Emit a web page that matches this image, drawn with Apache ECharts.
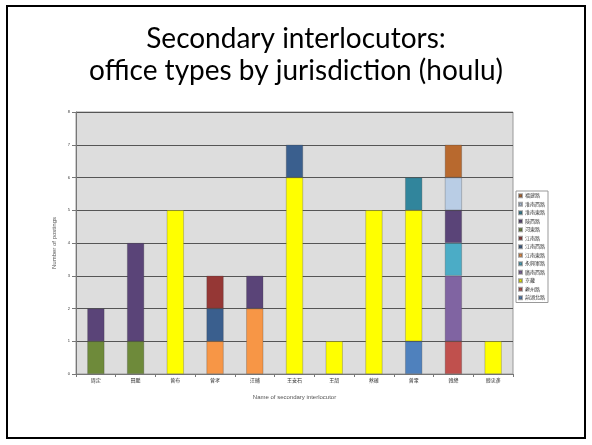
<!DOCTYPE html>
<html>
<head>
<meta charset="utf-8">
<script src="https://cdn.jsdelivr.net/npm/echarts@6/dist/echarts.min.js"></script>
<style>
  html, body { margin: 0; padding: 0; background: #fff; }
  #chart { width: 592px; height: 445px; }
</style>
</head>
<body>
<div id="chart"></div>
<script>
// interlocutors along the x axis
const categories = ['周定', '田鵬', '曾布', '曾孝', '汪輔', '王安石', '王韶', '蔡確', '曾鞏', '韓絳', '韓忠彥'];

// one array per jurisdiction (stacked bottom-up in this order)
const jingHuBei   = [0, 0, 0, 0, 0, 0, 0, 0, 1, 0, 0];
const kuiZhou     = [0, 0, 0, 0, 0, 0, 0, 0, 0, 1, 0];
const jingJi      = [0, 0, 5, 0, 0, 6, 1, 5, 4, 0, 1];
const guangNanXi  = [0, 0, 0, 0, 0, 0, 0, 0, 0, 2, 0];
const yongXingJun = [0, 0, 0, 0, 0, 0, 0, 0, 0, 1, 0];
const jiangNanDong = [0, 0, 0, 1, 2, 0, 0, 0, 0, 0, 0];
const jiangNanXi  = [0, 0, 0, 1, 0, 1, 0, 0, 0, 0, 0];
const jiangNan    = [0, 0, 0, 1, 0, 0, 0, 0, 0, 0, 0];
const heDong      = [1, 1, 0, 0, 0, 0, 0, 0, 0, 0, 0];
const shanXi      = [1, 3, 0, 0, 1, 0, 0, 0, 0, 1, 0];
const huaiNanDong = [0, 0, 0, 0, 0, 0, 0, 0, 1, 0, 0];
const huaiNanXi   = [0, 0, 0, 0, 0, 0, 0, 0, 0, 1, 0];
const fuJian      = [0, 0, 0, 0, 0, 0, 0, 0, 0, 1, 0];

const seriesNames = ['荊湖北路', '夔州路', '京畿', '廣南西路', '永興軍路', '江南東路',
  '江南西路', '江南路', '河東路', '陝西路', '淮南東路', '淮南西路', '福建路'];
const seriesData = [jingHuBei, kuiZhou, jingJi, guangNanXi, yongXingJun, jiangNanDong,
  jiangNanXi, jiangNan, heDong, shanXi, huaiNanDong, huaiNanXi, fuJian];
const colors = ['#4F81BD', '#C0504D', '#FFFF00', '#8064A2', '#4BACC6', '#F79646',
  '#3A5F8E', '#953735', '#6E8A3A', '#5A4478', '#31859C', '#B9CDE5', '#B8692E'];

const yTicks = [0, 1, 2, 3, 4, 5, 6, 7, 8];

const myChart = echarts.init(document.getElementById('chart'));

const titleFont = '28px Lato, "Open Sans", sans-serif';

const option = {
    animation: false,
    textStyle: { fontFamily: 'Liberation Sans, "Noto Sans CJK TC", sans-serif' },
    graphic: [
        {
            type: 'rect',
            shape: { x: 7, y: 6, width: 578, height: 432 },
            style: { fill: 'none', stroke: '#000', lineWidth: 2 }
        },
        {
            type: 'text',
            left: 'center',
            top: 25,
            style: { text: 'Secondary interlocutors:', font: titleFont, fill: '#000' }
        },
        {
            type: 'text',
            left: 'center',
            top: 57,
            style: { text: 'office types by jurisdiction (houlu)', font: titleFont, fill: '#000' }
        }
    ],
    legend: {
        orient: 'vertical',
        left: 516,
        top: 191,
        data: seriesNames.slice().reverse(),
        itemWidth: 3,
        itemHeight: 3,
        itemGap: 3,
        padding: [2, 3, 2, 2],
        borderColor: '#999',
        borderWidth: 1,
        icon: 'rect',
        textStyle: { fontSize: 5, lineHeight: 5.5, color: '#333', padding: [0, 0, 0, -2] }
    },
    grid: {
        left: 76,
        right: 79,
        top: 112,
        bottom: 71,
        show: true,
        backgroundColor: '#DDDDDD',
        borderColor: '#999',
        borderWidth: 1
    },
    xAxis: {
        type: 'category',
        data: categories,
        name: 'Name of secondary interlocutor',
        nameLocation: 'middle',
        nameGap: 20,
        nameTextStyle: { fontSize: 6, color: '#555' },
        axisLine: { lineStyle: { color: '#777' } },
        axisTick: { show: true, lineStyle: { color: '#777' }, length: 3 },
        axisLabel: { fontSize: 5, color: '#333', margin: 4 }
    },
    yAxis: {
        type: 'value',
        min: 0,
        max: 8,
        interval: 1,
        name: 'Number of postings',
        nameLocation: 'middle',
        nameGap: 14,
        nameTextStyle: { fontSize: 6, color: '#555' },
        axisLine: { show: true, lineStyle: { color: '#777' } },
        axisTick: { show: true, length: 4, lineStyle: { color: '#777' } },
        axisLabel: {
            fontSize: 4,
            color: '#333',
            margin: 6,
            formatter: v => yTicks.includes(v) ? String(v) : ''
        },
        splitLine: { lineStyle: { color: '#555', width: 1 } }
    },
    series: seriesNames.map((name, i) => ({
        name: name,
        type: 'bar',
        stack: 'total',
        barWidth: '43%',
        itemStyle: {
            color: colors[i],
            borderColor: 'rgba(60,60,60,0.45)',
            borderWidth: 0.6
        },
        data: seriesData[i].map(v => (v === 0 ? null : v))
    }))
};

myChart.setOption(option);
</script>
</body>
</html>
